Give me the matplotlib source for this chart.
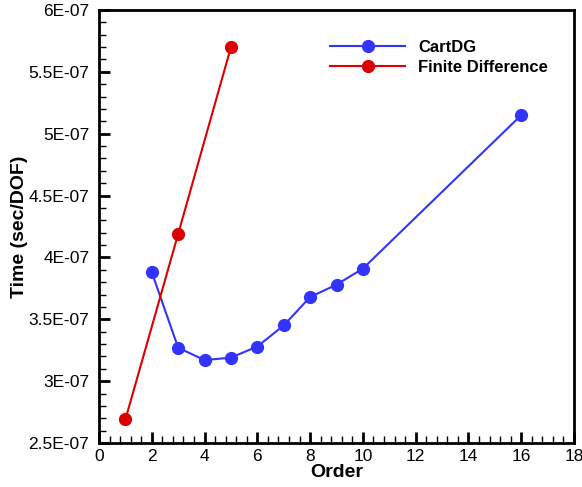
import numpy as np
import matplotlib
matplotlib.use("Agg")
import matplotlib.pyplot as plt
from matplotlib.ticker import MultipleLocator, FuncFormatter

plt.rcParams['font.family'] = ['Liberation Sans', 'DejaVu Sans']

# timing per degree of freedom
cart_order = [2, 3, 4, 5, 6, 7, 8, 9, 10, 16]
cart_time = [3.88e-7, 3.27e-7, 3.17e-7, 3.19e-7, 3.28e-7, 3.45e-7, 3.68e-7, 3.78e-7, 3.91e-7, 5.15e-7]
fd_order = [1, 3, 5]
fd_time = [2.69e-7, 4.19e-7, 5.70e-7]


def yfmt(v, pos):
    m, e = f"{v:.1E}".split("E")
    m = m.rstrip("0").rstrip(".")
    return f"{m}E{e[0]}{abs(int(e)):02d}"


fig = plt.figure(figsize=(5.82, 4.87), dpi=100)
ax = fig.add_axes([99/582, 1 - 443/487, 475/582, 433/487])

ax.plot(cart_order, cart_time, '-o', color='#3333ff', lw=1.5, ms=8.5, label='CartDG')
ax.plot(fd_order, fd_time, '-o', color='#dd0000', lw=1.5, ms=8.5, label='Finite Difference')

ax.set_xlim(0, 18)
ax.set_ylim(2.5e-7, 6e-7)
ax.xaxis.set_major_locator(MultipleLocator(2))
ax.xaxis.set_minor_locator(MultipleLocator(0.4))
ax.yaxis.set_major_locator(MultipleLocator(0.5e-7))
ax.yaxis.set_minor_locator(MultipleLocator(0.1e-7))
ax.yaxis.set_major_formatter(FuncFormatter(yfmt))

ax.tick_params(which='major', direction='in', length=8, width=2, labelsize=12.5)
ax.tick_params(axis='y', which='major', pad=7)
ax.tick_params(axis='x', which='major', pad=4)
ax.tick_params(which='minor', direction='in', length=5, width=1)
ax.tick_params(top=False, right=False)
for s in ax.spines.values():
    s.set_linewidth(2)

ax.set_xlabel('Order', fontsize=14, fontweight='bold', labelpad=0)
ax.set_ylabel('Time (sec/DOF)', fontsize=14, fontweight='bold', labelpad=0)

ax.legend(loc='upper left', bbox_to_anchor=(0.455, 0.965), frameon=False,
          handlelength=4.5, handletextpad=0.8, labelspacing=0.3,
          prop={'weight': 'bold', 'size': 12})

fig.savefig('out.png', dpi=100)
